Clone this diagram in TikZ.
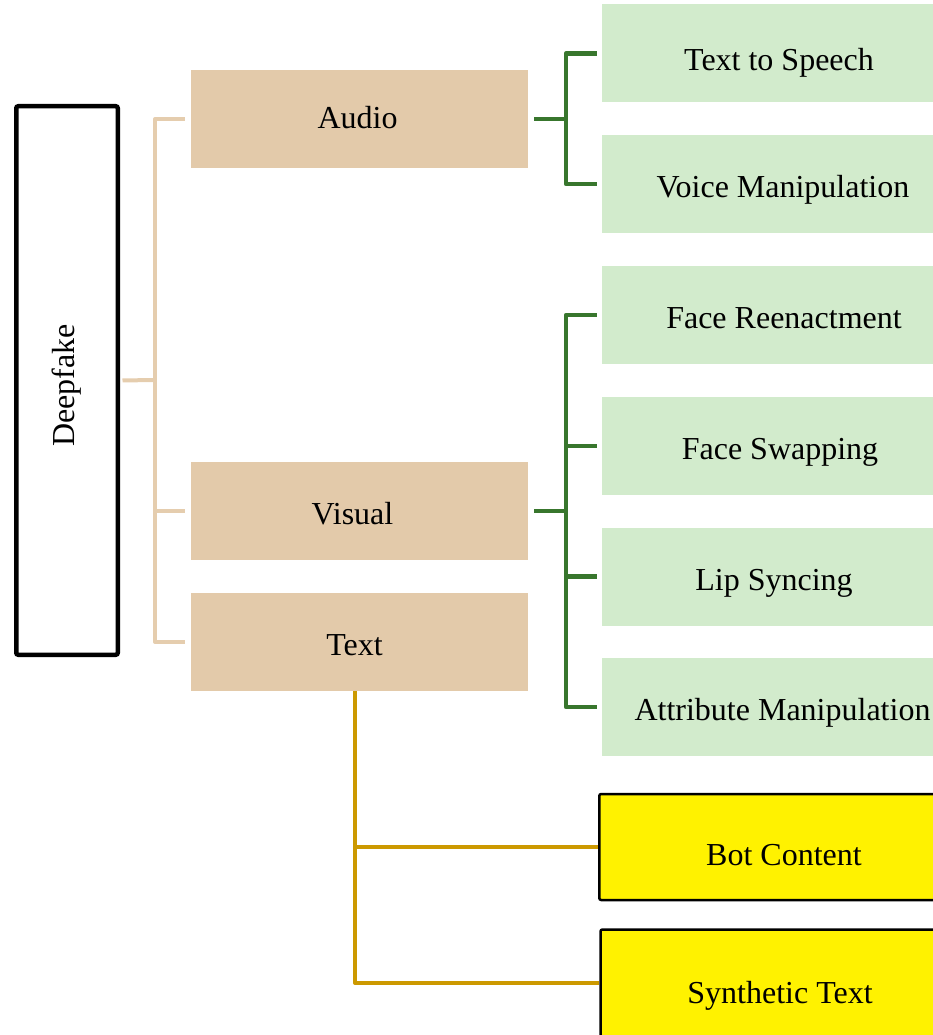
\documentclass[tikz,border=0pt]{standalone}
\usepackage{fontspec}
\setmainfont{Liberation Serif}

\definecolor{tanfill}{HTML}{E3CAAA}
\definecolor{tanrule}{HTML}{E5CDAE}
\definecolor{leaffill}{HTML}{D2EBCC}
\definecolor{leafrule}{HTML}{38762D}
\definecolor{goldrule}{HTML}{CC9900}

\begin{document}
\begin{tikzpicture}[x=1pt,y=-1pt,
  every node/.style={font=\fontsize{32}{36}\selectfont, inner sep=0pt},
  rootbox/.style={draw=black, line width=4.5pt, rounded corners=2pt, fill=white,
    minimum width=101.5pt, minimum height=548.5pt},
  branchbox/.style={fill=tanfill, minimum width=337pt, minimum height=98pt,
    text height=26pt, text depth=0pt},
  leafbox/.style={fill=leaffill, minimum width=356pt, minimum height=98pt,
    text height=27pt, text depth=0pt},
  botbox/.style={fill=yellow, draw=black, line width=2.5pt, rounded corners=2pt,
    minimum height=106pt, text depth=0pt},
  tanlink/.style={draw=tanrule, line width=4pt, line join=round},
  leaflink/.style={draw=leafrule, line width=4.5pt, line join=round},
  goldlink/.style={draw=goldrule, line width=4pt, line join=round}]

\useasboundingbox (0,0) rectangle (933,1035);
\clip (0,0) rectangle (933,1035);

%--- Root ---
\node[rootbox] (deepfake) at (67,380.5) {\rotatebox{90}{Deepfake\hspace*{10pt}}};

%--- Categories ---
\node[branchbox, text height=19pt] (audio) at (359.5,119) {\hspace*{-4pt}Audio};
\node[branchbox] (visual) at (359.5,511) {\hspace*{-14pt}Visual};
\node[branchbox] (text)   at (359.5,642) {\hspace*{-10pt}Text};

%--- Audio leaves ---
\node[leafbox, text height=34pt] (tts) at (780,53.5) {\hspace*{-2pt}Text to Speech};
\node[leafbox] (voice) at (780,184) {\hspace*{6pt}Voice Manipulation};

%--- Visual leaves ---
\node[leafbox] (reenact) at (780,315)   {\hspace*{8pt}Face Reenactment};
\node[leafbox] (swap)    at (780,446)   {Face Swapping};
\node[leafbox] (lip)     at (780,576.5) {\hspace*{-12pt}Lip Syncing};
\node[leafbox] (attr)    at (780,707)   {\hspace*{5pt}Attribute Manipulation};

%--- Text leaves ---
\node[botbox, minimum width=369.5pt, text height=36pt] (bot) at (784,847) {Bot Content};
\node[botbox, minimum width=359pt, minimum height=107pt, text height=40pt]
  (synth) at (780,983) {Synthetic Text};

%--- Root to categories ---
\coordinate (rootbus) at (155,380);
\draw[tanlink, shorten <=2.5pt] (deepfake.east) -- (rootbus);
\foreach \n in {audio,visual,text}
  \draw[tanlink, shorten >=6pt] (rootbus) |- (\n.west);

%--- Audio to leaves ---
\coordinate (audiobus) at (566,119);
\draw[leaflink, shorten <=6pt] (audio.east) -- (audiobus);
\foreach \n in {tts,voice}
  \draw[leaflink, shorten >=5pt] (audiobus) |- (\n.west);

%--- Visual to leaves ---
\coordinate (visualbus) at (566,511);
\draw[leaflink, shorten <=6pt] (visual.east) -- (visualbus);
\foreach \n in {reenact,swap,lip,attr}
  \draw[leaflink, shorten >=5pt] (visualbus) |- (\n.west);

%--- Text to leaves ---
\coordinate (textdrop) at ([xshift=-4.5pt]text.south);
\foreach \n in {bot,synth}
  \draw[goldlink] (textdrop) |- (\n.west);

\end{tikzpicture}
\end{document}
